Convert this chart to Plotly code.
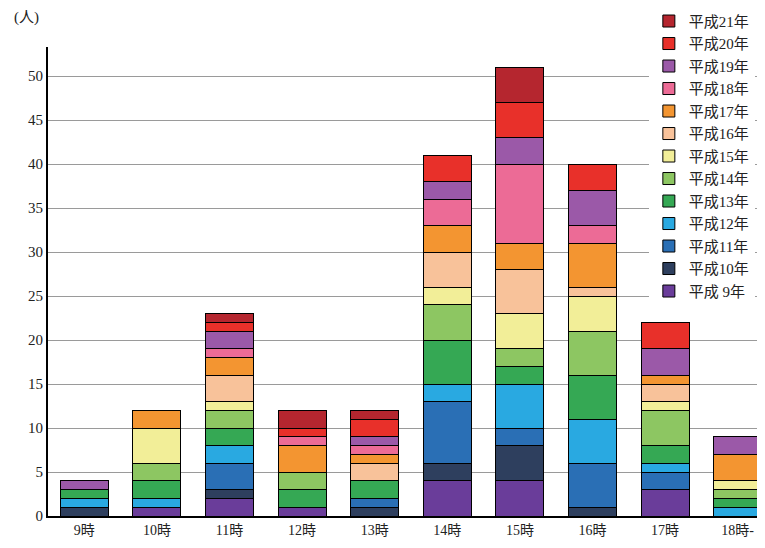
import plotly.graph_objects as go

categories = ["9時", "10時", "11時", "12時", "13時", "14時", "15時", "16時", "17時", "18時-"]
years = ["平成 9年", "平成10年", "平成11年", "平成12年", "平成13年", "平成14年", "平成15年",
         "平成16年", "平成17年", "平成18年", "平成19年", "平成20年", "平成21年"]

h09 = [0, 1, 2, 1, 0, 4, 4, 0, 3, 0]
h10 = [1, 0, 1, 0, 1, 2, 4, 1, 0, 0]
h11 = [0, 0, 3, 0, 1, 7, 2, 5, 2, 0]
h12 = [1, 1, 2, 0, 0, 2, 5, 5, 1, 1]
h13 = [1, 2, 2, 2, 2, 5, 2, 5, 2, 1]
h14 = [0, 2, 2, 2, 0, 4, 2, 5, 4, 1]
h15 = [0, 4, 1, 0, 0, 2, 4, 4, 1, 1]
h16 = [0, 0, 3, 0, 2, 4, 5, 1, 2, 0]
h17 = [0, 2, 2, 3, 1, 3, 3, 5, 1, 3]
h18 = [0, 0, 1, 1, 1, 3, 9, 2, 0, 0]
h19 = [1, 0, 2, 0, 1, 2, 3, 4, 3, 2]
h20 = [0, 0, 1, 1, 2, 3, 4, 3, 3, 0]
h21 = [0, 0, 1, 2, 1, 0, 4, 0, 0, 0]

series = [h09, h10, h11, h12, h13, h14, h15, h16, h17, h18, h19, h20, h21]
colors = ["#6a3d9a", "#2e3f5e", "#2a6fb5", "#29a9e1", "#35a854", "#8dc662", "#f2ee98",
          "#f8c29a", "#f39531", "#ec6b96", "#9b59a8", "#e8302a", "#b5262f"]

font = "Liberation Serif, Noto Sans CJK JP, serif"

fig = go.Figure()
for name, vals, col in zip(years, series, colors):
    fig.add_trace(go.Bar(
        x=categories, y=vals, name=name,
        marker=dict(color=col, line=dict(color="black", width=1)),
        width=0.66,
    ))

fig.update_layout(
    barmode="stack",
    width=757, height=540,
    margin=dict(l=40, r=0, t=39, b=32, autoexpand=False),
    paper_bgcolor="white", plot_bgcolor="white",
    font=dict(family=font, size=13, color="#222"),
    showlegend=True,
    legend=dict(
        traceorder="reversed",
        x=0.838, xanchor="left", y=0.767, yanchor="middle",
        bgcolor="white", font=dict(size=15, family=font),
        itemwidth=30, tracegroupgap=0,
    ),
    xaxis=dict(
        range=[-0.5, 9.376], showgrid=False, showline=True, linecolor="black",
        linewidth=2, ticks="", tickfont=dict(size=14),
    ),
    yaxis=dict(
        range=[0, 53.3], tickvals=list(range(0, 55, 5)), showgrid=True,
        gridcolor="#9a9a9a", gridwidth=1, showline=True, linecolor="black",
        linewidth=2, ticks="", tickfont=dict(size=15), zeroline=False,
    ),
    annotations=[dict(text="(人)", xref="paper", yref="paper", x=-0.03, y=1.062,
                      xanchor="center", yanchor="middle", showarrow=False,
                      font=dict(size=15, family=font))],
)

fig.write_html("out.html")
